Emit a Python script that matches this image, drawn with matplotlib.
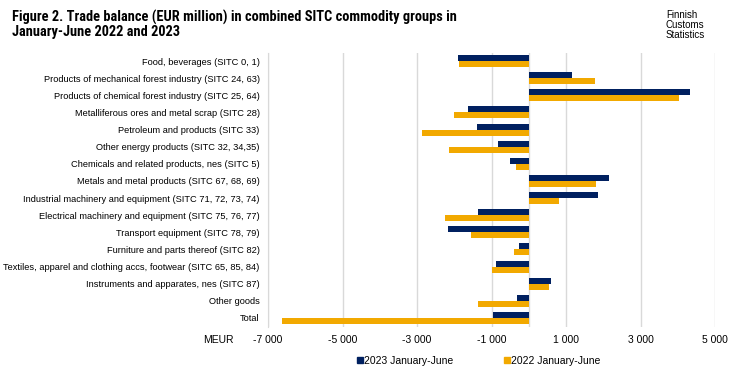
import matplotlib
matplotlib.use("Agg")
import matplotlib.pyplot as plt
from matplotlib.patches import Patch

categories = [
    "Food, beverages (SITC 0, 1)",
    "Products of mechanical forest industry (SITC 24, 63)",
    "Products of chemical forest industry (SITC 25, 64)",
    "Metalliferous ores and metal scrap (SITC 28)",
    "Petroleum and products (SITC 33)",
    "Other energy products (SITC 32, 34,35)",
    "Chemicals and related products, nes (SITC 5)",
    "Metals and metal products (SITC 67, 68, 69)",
    "Industrial machinery and equipment (SITC 71, 72, 73, 74)",
    "Electrical machinery and equipment (SITC 75, 76, 77)",
    "Transport equipment (SITC 78, 79)",
    "Furniture and parts thereof (SITC 82)",
    "Textiles, apparel and clothing accs, footwear (SITC 65, 85, 84)",
    "Instruments and apparates, nes (SITC 87)",
    "Other goods",
    "Total",
]
values_2023 = [-1890, 1165, 4340, -1620, -1377, -813, -491, 2166,
               1871, -1350, -2156, -250, -866, 609, -303, -948]
values_2022 = [-1860, 1790, 4045, -1995, -2853, -2130, -330, 1817,
               824, -2236, -1539, -384, -1000, 550, -1350, -6612]
tick_values = [-7000, -5000, -3000, -1000, 1000, 3000, 5000]
tick_labels = ["-7 000", "-5 000", "-3 000", "-1 000", "1 000", "3 000", "5 000"]
series_labels = ["2023 January-June", "2022 January-June"]

navy = "#002060"
orange = "#F2A900"
grid = "#D9D9D9"
REG = ["Liberation Sans", "DejaVu Sans"]
NARROW = ["Roboto Condensed", "PT Sans Narrow", "Liberation Sans", "DejaVu Sans"]
plt.rcParams["font.family"] = REG

fig = plt.figure(figsize=(7.37, 3.78), dpi=100)
W, H = 737, 378
left, right, top, bottom = 268, 715, 52.5, 326.5
ax = fig.add_axes([left / W, 1 - bottom / H, (right - left) / W, (bottom - top) / H])

n = len(categories)
ypos = list(range(n))
bh = 0.35
ax.barh([y - bh / 2 for y in ypos], values_2023, height=bh, color=navy, zorder=3)
ax.barh([y + bh / 2 for y in ypos], values_2022, height=bh, color=orange, zorder=3)

ax.set_ylim(n - 0.5, -0.5)
ax.set_xlim(-7000, 5000)
ax.set_yticks(ypos)
ax.set_yticklabels(categories, fontsize=6.7, color="#000000")
ax.set_xticks(tick_values)
ax.set_xticklabels(tick_labels, fontsize=7.5)
ax.tick_params(axis="both", length=0)
ax.tick_params(axis="y", pad=6)
ax.tick_params(axis="x", pad=6)
for s in ["top", "right", "bottom"]:
    ax.spines[s].set_visible(False)
ax.spines["left"].set_color(grid)
ax.xaxis.grid(True, color=grid, linewidth=1, zorder=0)
ax.axvline(0, color=grid, linewidth=1, zorder=2)
ax.set_axisbelow(True)

fig.text(203 / W, 1 - 340 / H, "MEUR", fontsize=7.5, va="center", ha="left")

fig.text(12 / W, 1 - 10 / H,
         "Figure 2. Trade balance (EUR million) in combined SITC commodity groups in\nJanuary-June 2022 and 2023",
         fontsize=10.4, fontweight="bold", va="top", ha="left", linespacing=1.0,
         family=NARROW)
fig.text(666 / W, 1 - 10 / H, "Finnish\nCustoms\nStatistics", fontsize=7,
         va="top", ha="left", linespacing=1.0)

handles = [Patch(color=navy), Patch(color=orange)]
fig.legend(handles, series_labels, loc="center", bbox_to_anchor=(479 / W, 1 - 361 / H),
           ncol=2, frameon=False, fontsize=7.5, handlelength=0.5, handleheight=0.5,
           handletextpad=0.15, columnspacing=4.9)

fig.savefig("out.png", dpi=100)
